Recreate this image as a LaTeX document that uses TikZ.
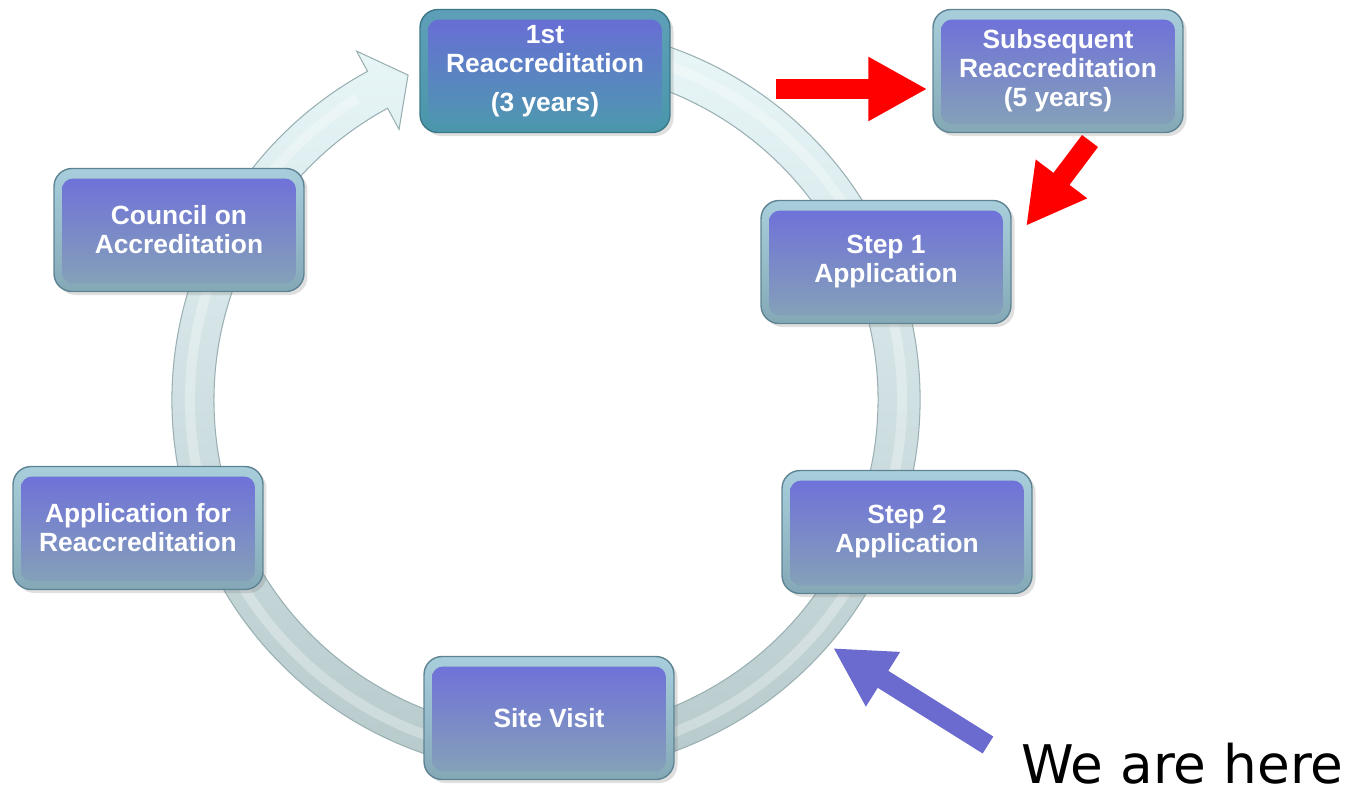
\documentclass[tikz,border=0pt]{standalone}
\usepackage{fontspec}
\setmainfont{Liberation Sans}
\newfontfamily\herefont{DejaVu Sans}
\usetikzlibrary{arrows.meta,shadows,calc}
\definecolor{ringtop}{HTML}{E8F6F8}
\definecolor{ringbot}{HTML}{B4C7C9}
\definecolor{ringedge}{HTML}{9AB0B3}
\definecolor{frametop}{HTML}{A8CEDC}
\definecolor{framebot}{HTML}{84A8B6}
\definecolor{boxedge}{HTML}{5E8493}
\definecolor{paneltop}{HTML}{6D6DDB}
\definecolor{panelmid}{HTML}{7A82D0}
\definecolor{panelbot}{HTML}{86A4B6}
\definecolor{firstframetop}{HTML}{5E9FB8}
\definecolor{firstframebot}{HTML}{4A96AA}
\definecolor{firstedge}{HTML}{3A7888}
\definecolor{firstpaneltop}{HTML}{6A6AD8}
\definecolor{firstpanelbot}{HTML}{4C9AAE}
\definecolor{mred}{HTML}{FF0000}
\definecolor{mblue}{HTML}{6B6BCF}
\newcommand{\stagepanel}[3]{\shade[rounded corners=0.22cm, top color=#1, middle color=#2, bottom color=#3]
    ([shift={(0.16cm,0.16cm)}]path picture bounding box.south west) rectangle ([shift={(-0.16cm,-0.2cm)}]path picture bounding box.north east);}
\tikzstyle{stage}=[rectangle, rounded corners=0.36cm, minimum width=5cm, minimum height=2.46cm, draw=boxedge, line width=0.8pt, top color=frametop, bottom color=framebot, text=white, align=center, font=\bfseries\fontsize{15}{16.5}\selectfont, drop shadow={opacity=0.25, shadow xshift=2pt, shadow yshift=-2pt}, path picture={\stagepanel{paneltop}{panelmid}{panelbot}}]
\tikzstyle{firststage}=[stage, draw=firstedge, top color=firstframetop, bottom color=firstframebot, path picture={\stagepanel{firstpaneltop}{firstpaneltop!55!firstpanelbot}{firstpanelbot}}]
\tikzstyle{bigarrow}=[line width=0.4cm, -{Triangle[length=1.18cm, width=1.2cm]}]

\begin{document}
\begin{tikzpicture}[x=0.02cm, y=0.02cm]
    \useasboundingbox (0,0) rectangle (1351,789);

    % ring with its head
    \begin{scope}[shift={(546,389)}]
        \path[top color=ringtop, bottom color=ringbot, draw=ringedge, line width=0.6pt]
            (75:374) arc[start angle=75, end angle=-241.5, radius=374]
            -- (118.5:397) -- (113:353) -- (118.5:308)
            -- (118.5:332) arc[start angle=118.5, end angle=435, radius=332] -- cycle;
        \draw[white, opacity=0.3, line width=0.2cm] (75:356) arc[start angle=75, end angle=-238, radius=356];
    \end{scope}

    \node[firststage] (first) at (545,718) {1st\\Reaccreditation\\[6pt](3 years)};
    \node[stage] (sub) at (1058,718) {Subsequent\\Reaccreditation\\(5 years)};
    \node[stage] (step1) at (886,527) {Step 1\\Application};
    \node[stage] (step2) at (907,257) {Step 2\\Application};
    \node[stage] (site) at (549,71) {Site Visit};
    \node[stage] (appl) at (138,261) {Application for\\Reaccreditation};
    \node[stage] (council) at (179,559) {Council on\\Accreditation};

    \node[anchor=base west, inner sep=0pt, font=\herefont\fontsize{30.3}{36}\selectfont] (here) at (1021,6) {We are here};

    \coordinate (r1s) at (776,700);
    \coordinate (r2s) at (1090,648);
    \coordinate (r2e) at (1026,563);
    \coordinate (bs) at (988,44);
    \coordinate (be) at (833,141);
    \draw[bigarrow, mred] (r1s) -- ([xshift=-0.1cm]r1s -| sub.west);
    \draw[bigarrow, mred] (r2s) -- (r2e);
    \draw[bigarrow, mblue] (bs) -- (be);
\end{tikzpicture}
\end{document}
